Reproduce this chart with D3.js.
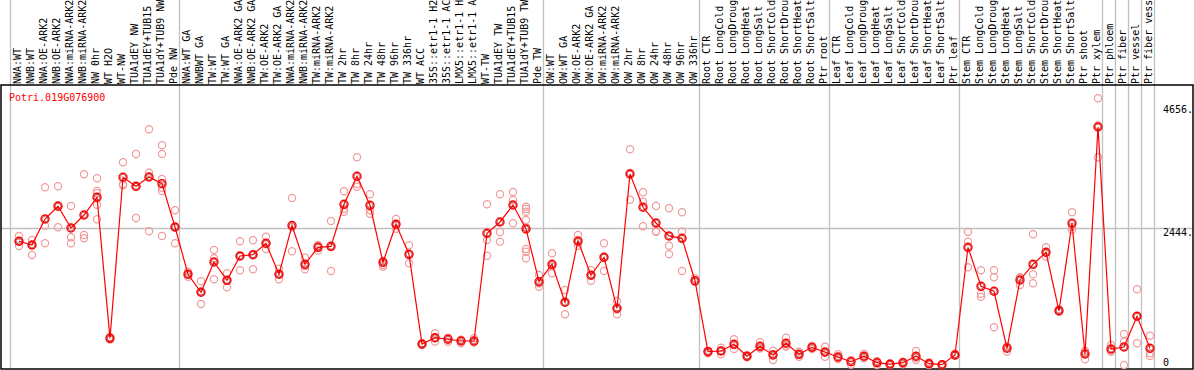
<!DOCTYPE html>
<html>
<head>
<meta charset="utf-8">
<script src="https://cdn.jsdelivr.net/npm/d3@7"></script>
<style>
  body { margin: 0; background: #fff; }
  svg { display: block; }
</style>
</head>
<body>
<div id="chart"></div>
<script>
const width = 1194;
const height = 370;

const geneName = "Potri.019G076900";

// number of samples in each block between the grey separators
const groupSizes = [13, 28, 12, 10, 10, 11, 1, 1, 1, 1];

const categories = [
  "NWA:WT", "NWB:WT", "NWA:OE-ARK2", "NWB:OE-ARK2", "NWA:miRNA-ARK2", "NWB:miRNA-ARK2",
  "NW 0hr", "WT H2O", "WT-NW", "TUA1dEY NW", "TUA1dEY+TUB15 NW", "TUA1dY+TUB9 NW", "Pde NW",
  "NWA:WT GA", "NWBWT GA", "TW:WT", "TW:WT GA", "NWA:OE-ARK2 GA", "NWB:OE-ARK2 GA",
  "TW:OE-ARK2", "TW:OE-ARK2 GA", "NWA:miRNA-ARK2 GA", "NWB:miRNA-ARK2 GA", "TW:miRNA-ARK2",
  "TW:miRNA-ARK2 GA", "TW 2hr", "TW 8hr", "TW 24hr", "TW 48hr", "TW 96hr", "TW 336hr",
  "WT ACC", "35S::etr1-1 H2O", "35S::etr1-1 ACC", "LMX5::etr1-1 H2O", "LMX5::etr1-1 ACC",
  "WT-TW", "TUA1dEY TW", "TUA1dEY+TUB15 TW", "TUA1dY+TUB9 TW", "Pde TW",
  "OW:WT", "OW:WT GA", "OW:OE-ARK2", "OW:OE-ARK2 GA", "OW:miRNA-ARK2", "OW:miRNA-ARK2 GA",
  "OW 2hr", "OW 8hr", "OW 24hr", "OW 48hr", "OW 96hr", "OW 336hr",
  "Root CTR", "Root LongCold", "Root LongDrought", "Root LongHeat", "Root LongSalt",
  "Root ShortCold", "Root ShortDrought", "Root ShortHeat", "Root ShortSalt", "Ptr root",
  "Leaf CTR", "Leaf LongCold", "Leaf LongDrought", "Leaf LongHeat", "Leaf LongSalt",
  "Leaf ShortCold", "Leaf ShortDrought", "Leaf ShortHeat", "Leaf ShortSalt", "Ptr leaf",
  "Stem CTR", "Stem LongCold", "Stem LongDrought", "Stem LongHeat", "Stem LongSalt",
  "Stem ShortCold", "Stem ShortDrought", "Stem ShortHeat", "Stem ShortSalt", "Ptr shoot", "Ptr xylem",
  "Ptr phloem", "Ptr fiber", "Ptr vessel", "Ptr fiber vessel"
];

const means = [
  2212, 2146, 2610, 2838, 2450, 2682, 2998, 477, 3356, 3195, 3361, 3242, 2467,
  1622, 1300, 1842, 1514, 1949, 1972, 2176, 1622, 2494, 1800, 2104, 2122, 2873, 3374, 2855,
  1836, 2516, 1979, 375, 488, 460, 429, 429, 2355, 2557, 2861, 2432, 1489,
  1800, 1121, 2217, 1604, 1926, 1014, 3415, 2820, 2539, 2307, 2265, 1507,
  238, 250, 370, 156, 334, 179, 388, 191, 316, 232,
  143, 59, 156, 41, 14, 41, 156, 23, 5, 179,
  2104, 1407, 1318, 299, 1520, 1800, 2015, 969, 2534, 197, 4255,
  286, 322, 871, 299
];

const replicates = [
  [2307, 2217, 2128], [2235, 2146, 1967], [3177, 2491, 2176], [3195, 2855, 2462],
  [2843, 2283, 2176], [3410, 2324, 2265], [3338, 3111, 3070, 2866, 2605], [501, 477, 456],
  [3624, 3231, 3213], [3773, 3183, 2628], [4214, 3438, 2391], [3928, 3773, 3326, 3170, 3111, 2307],
  [2766, 2459, 2176],
  [1668, 1620, 1579], [1497, 1312, 1091], [2056, 1908, 1532], [1640, 1513, 1389],
  [2212, 1942, 1693], [2230, 1975, 1711], [2294, 2160, 2074], [1722, 1612, 1532],
  [2986, 2463, 2033], [1919, 1770, 1711], [2146, 2122, 2044], [2575, 2110, 1681],
  [3106, 2789, 2741], [3714, 3236, 3188], [3052, 2766, 2705], [1860, 1788, 1758],
  [2610, 2503, 2435], [2140, 1979, 1818], [388, 379, 358], [567, 477, 420],
  [486, 477, 417], [452, 447, 388], [477, 406, 404], [2873, 2235, 1954],
  [3052, 2378, 2205], [3093, 2950, 2534], [2830, 2789, 2741, 2593, 2462, 2074, 2026, 1908],
  [1609, 1458, 1400],
  [1997, 1763, 1640], [1341, 1115, 907], [2324, 2194, 2133], [1699, 1606, 1507],
  [2176, 1921, 1681], [1144, 991, 907], [3857, 3432, 2956], [3088, 2920, 2480],
  [2843, 2391, 2383], [2802, 2133, 1979], [2730, 2383, 1681], [1550, 1489, 1482],
  [256, 249, 209], [309, 250, 191], [460, 364, 286], [173, 157, 138], [406, 299, 297],
  [256, 192, 89], [488, 345, 331], [238, 187, 148], [345, 317, 286], [327, 221, 148],
  [191, 131, 107], [89, 83, 5], [202, 146, 120], [72, 51, 0], [30, 12, 0],
  [59, 51, 13], [250, 129, 89], [48, 21, 0], [13, 2, 0], [202, 169, 166],
  [2378, 2205, 1747], [1693, 1275, 1221], [1693, 1568, 674], [332, 327, 238],
  [1568, 1562, 1430], [2337, 1622, 1461], [2104, 2005, 1936], [996, 958, 953],
  [2730, 2473, 2414], [256, 233, 102], [4769, 4282, 3714],
  [358, 262, 238], [554, 417, 0], [1354, 871, 388], [524, 209, 161]
];

const yMax = 4888;
const tickValues = [0, 2444, 4656];
const tickLabels = ["0", "2444.", "4656."];
const gridValues = [2444];

const font = "'DejaVu Sans Mono', monospace";

const plotLeft = 1, plotRight = 1193, plotTop = 85, plotBottom = 369;

// the label strip only has room for 14 characters, longer names get cut like in the original
const maxLabelChars = 14;

const svg = d3.select("#chart")
  .append("svg")
  .attr("width", width)
  .attr("height", height)
  .style("font-family", font)
  .style("font-size", "10px");

const idx = d3.range(categories.length);

const x = d3.scaleBand()
  .domain(idx)
  .range([11, 11 + 13 * categories.length])
  .padding(0);

const y = d3.scaleLinear()
  .domain([0, yMax])
  .range([365, 91.6]);

const px = i => x(i) + x.bandwidth() / 2 + 1.5;

// group separators (grey vertical lines through label area and plot)
let acc = 0;
const boundaries = [0];
groupSizes.forEach(s => { acc += s; boundaries.push(acc); });
const bx = b => (b < categories.length ? x(b) : x(categories.length - 1) + x.bandwidth()) - 0.5;

svg.append("g")
  .selectAll("line")
  .data(boundaries)
  .join("line")
  .attr("x1", bx)
  .attr("x2", bx)
  .attr("y1", 0)
  .attr("y2", plotBottom)
  .attr("stroke", "#c0c0c0")
  .attr("stroke-width", 1.3);

// horizontal grid line
svg.append("g")
  .selectAll("line")
  .data(gridValues)
  .join("line")
  .attr("x1", plotLeft)
  .attr("x2", plotRight)
  .attr("y1", d => Math.round(y(d)) + 0.5)
  .attr("y2", d => Math.round(y(d)) + 0.5)
  .attr("stroke", "#c0c0c0")
  .attr("stroke-width", 1.3);

// frame
svg.append("rect")
  .attr("x", plotLeft)
  .attr("y", plotTop)
  .attr("width", plotRight - plotLeft)
  .attr("height", plotBottom - plotTop)
  .attr("fill", "none")
  .attr("stroke", "#000")
  .attr("stroke-width", 1.5);

// rotated sample labels
svg.append("g")
  .selectAll("text")
  .data(idx)
  .join("text")
  .attr("transform", i => `translate(${x(i) + x.bandwidth() / 2},84) rotate(-90)`)
  .attr("dy", "0.35em")
  .attr("fill", "#000")
  .text(i => categories[i].slice(0, maxLabelChars).trimEnd());

// right axis labels
svg.append("g")
  .selectAll("text")
  .data(tickValues)
  .join("text")
  .attr("x", 1163)
  .attr("y", d => d === 0 ? y(d) + 1 : y(d))
  .attr("dy", d => d === 0 ? "0" : "0.8em")
  .attr("fill", "#000")
  .text((d, i) => tickLabels[i]);

// gene name
svg.append("text")
  .attr("x", 9)
  .attr("y", 101)
  .attr("fill", "#ff0000")
  .text(geneName);

// replicate points
const repPoints = [];
replicates.forEach((vals, i) => vals.forEach(v => repPoints.push({ i, v })));

svg.append("g")
  .selectAll("circle")
  .data(repPoints)
  .join("circle")
  .attr("cx", d => px(d.i))
  .attr("cy", d => y(d.v))
  .attr("r", 3.6)
  .attr("fill", "none")
  .attr("stroke", "#f09c9c")
  .attr("stroke-width", 1.2);

// mean line
const line = d3.line()
  .x((d, i) => px(i))
  .y(d => y(d));

svg.append("path")
  .datum(means)
  .attr("d", line)
  .attr("fill", "none")
  .attr("stroke", "#ff0000")
  .attr("stroke-width", 1.2);

// mean points: red ring with a thin darker inner ring
const meanG = svg.append("g");

meanG.selectAll("circle.outer")
  .data(means)
  .join("circle")
  .attr("class", "outer")
  .attr("cx", (d, i) => px(i))
  .attr("cy", d => y(d))
  .attr("r", 4)
  .attr("fill", "none")
  .attr("stroke", "#ff0000")
  .attr("stroke-width", 1.4);

meanG.selectAll("circle.inner")
  .data(means)
  .join("circle")
  .attr("class", "inner")
  .attr("cx", (d, i) => px(i))
  .attr("cy", d => y(d))
  .attr("r", 2.9)
  .attr("fill", "none")
  .attr("stroke", "#a00000")
  .attr("stroke-width", 0.6);
</script>
</body>
</html>
